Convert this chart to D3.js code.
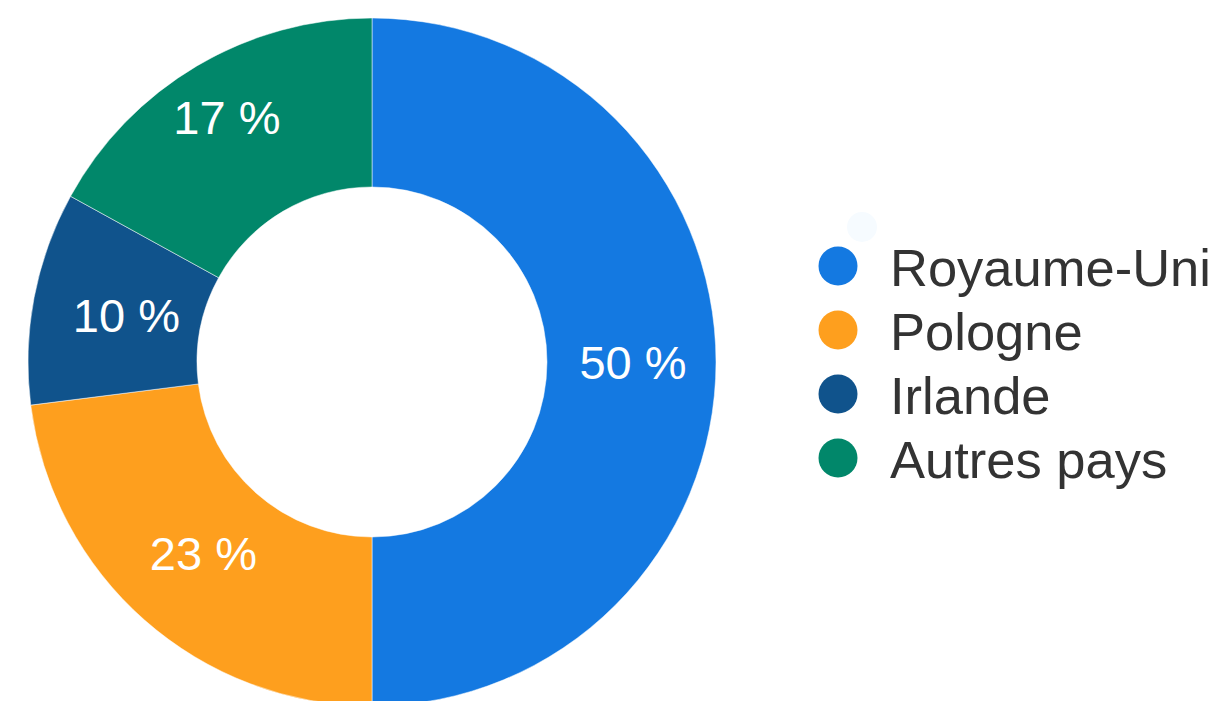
<!DOCTYPE html>
<html>
<head>
<meta charset="utf-8">
<script src="https://cdn.jsdelivr.net/npm/d3@7"></script>
<style>
  html, body { margin: 0; padding: 0; background: #ffffff; }
  svg { display: block; }
  text { font-family: "Liberation Sans", Arial, Helvetica, sans-serif; }
</style>
</head>
<body>
<svg id="chart" width="1230" height="701"></svg>
<script>
// Répartition par pays (en %)
const categories = ["Royaume-Uni", "Pologne", "Irlande", "Autres pays"];
const values = [50, 23, 10, 17];
const colors = ["#1479e1", "#fe9f1e", "#10538c", "#01876a"];

// Layout
const width = 1230, height = 701;
const cx = 372, cy = 362;
const outerR = 344, innerR = 175;
// distance of each percentage label from the centre
const labelDist = [261, 255, 250, 285];

const svg = d3.select("#chart");

const pie = d3.pie().sort(null).value(d => d.value)
  .startAngle(0).endAngle(2 * Math.PI);
const data = categories.map((c, i) => ({ name: c, value: values[i], color: colors[i] }));
const arcs = pie(data);

const arc = d3.arc().innerRadius(innerR).outerRadius(outerR);

const g = svg.append("g").attr("transform", `translate(${cx},${cy})`);

g.selectAll("path.slice")
  .data(arcs)
  .join("path")
  .attr("class", "slice")
  .attr("d", arc)
  .attr("fill", d => d.data.color)
  .attr("stroke", "#ffffff")
  .attr("stroke-width", 0.5);

g.selectAll("text.pct")
  .data(arcs)
  .join("text")
  .attr("class", "pct")
  .attr("transform", (d, i) => {
    const r = labelDist[i];
    const [x, y] = d3.arc().innerRadius(r).outerRadius(r).centroid(d);
    return `translate(${x},${y})`;
  })
  .attr("text-anchor", "middle")
  .attr("dy", "0.36em")
  .attr("fill", "#ffffff")
  .attr("font-size", 47)
  .text(d => `${d.data.value} %`);

// Legend
const legend = svg.append("g").attr("transform", "translate(838,266)");
const rowH = 64;

legend.append("circle")
  .attr("cx", 24).attr("cy", -39).attr("r", 15)
  .attr("fill", "#f6fbff");

const items = legend.selectAll("g.item")
  .data(data)
  .join("g")
  .attr("class", "item")
  .attr("transform", (d, i) => `translate(0,${i * rowH})`);

items.append("circle")
  .attr("r", 19.5)
  .attr("fill", d => d.color);

items.append("text")
  .attr("x", 52)
  .attr("y", 20)
  .attr("font-size", 52.5)
  .attr("fill", "#333333")
  .text(d => d.name);
</script>
</body>
</html>
